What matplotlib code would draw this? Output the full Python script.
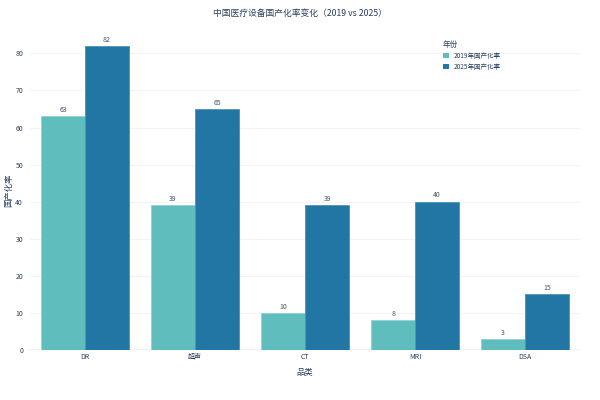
import numpy as np
import matplotlib.pyplot as plt
from matplotlib.patches import Patch

plt.rcParams['font.family'] = ['Noto Sans CJK SC', 'DejaVu Sans']

categories = ['DR', '超声', 'CT', 'MRI', 'DSA']
rate_2019 = [63, 39, 10, 8, 3]
rate_2025 = [82, 65, 39, 40, 15]
series_names = ['2019年国产化率', '2025年国产化率']

c2019 = '#5fbdbe'
c2025 = '#2176a3'
txt = '#2a3f5f'

fig = plt.figure(figsize=(6, 4), dpi=100)
ax = fig.add_axes([0.05, 0.125, 0.917, 0.80])

x = np.arange(len(categories))
w = 0.4
b1 = ax.bar(x - w / 2, rate_2019, w, color=c2019, edgecolor='#8fd3d3', linewidth=0.6, zorder=3)
b2 = ax.bar(x + w / 2, rate_2025, w, color=c2025, edgecolor='#4a93ba', linewidth=0.6, zorder=3)

# value labels above bars
for bars in (b1, b2):
    for r in bars:
        h = r.get_height()
        ax.text(r.get_x() + r.get_width() / 2, h + 0.6, '%d' % h,
                ha='center', va='bottom', fontsize=5, color='#44546e')

ax.set_xlim(-0.5, len(categories) - 0.5)
ax.set_ylim(0, 86.3)
ax.set_yticks(np.arange(0, 81, 10))
ax.set_xticks(x)
ax.set_xticklabels(categories)
ax.tick_params(axis='both', length=0, labelsize=5, labelcolor=txt)
ax.tick_params(axis='x', pad=2)
ax.tick_params(axis='y', pad=5)
ax.grid(axis='y', color='#f0f3f7', linewidth=0.8, zorder=0)
ax.axhline(0, color='#ebf0f8', linewidth=1.2, zorder=1)
for s in ax.spines.values():
    s.set_visible(False)

ax.set_xlabel('品类', fontsize=6, color=txt)
ax.set_ylabel('国产化率', fontsize=6, color=txt)
ax.xaxis.set_label_coords(0.5, -0.055)
ax.yaxis.set_label_coords(-0.03, 0.5)
fig.suptitle('中国医疗设备国产化率变化（2019 vs 2025）', fontsize=6.3, color=txt, y=0.977)

handles = [Patch(facecolor=c2019), Patch(facecolor=c2025)]
leg = ax.legend(handles, series_names, title='年份', loc='upper left',
                bbox_to_anchor=(0.74, 0.985), frameon=False, fontsize=4.7,
                title_fontsize=5.5, handlelength=0.9, handleheight=0.9,
                labelspacing=0.45, alignment='left')
for t in leg.get_texts():
    t.set_color(txt)
leg.get_title().set_color(txt)

fig.savefig('out.png', dpi=100)
